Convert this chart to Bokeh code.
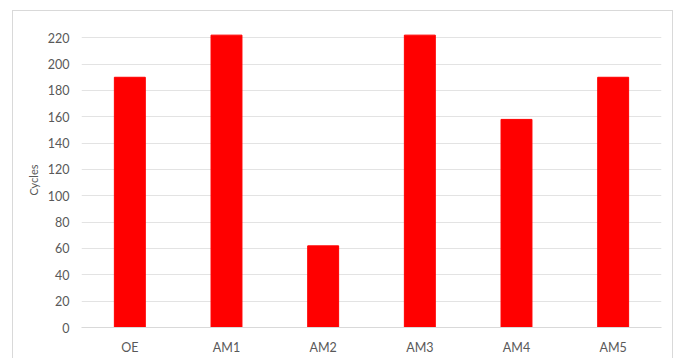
from bokeh.plotting import figure
from bokeh.models import FactorRange, Range1d, FixedTicker
from bokeh.embed import file_html
from bokeh.resources import INLINE

# Cycle counts per sample
categories = ["OE", "AM1", "AM2", "AM3", "AM4", "AM5"]
cycles = [190, 222, 62, 222, 158, 190]
y_ticks = [0, 20, 40, 60, 80, 100, 120, 140, 160, 180, 200, 220]

FONT = "Lato"
TEXT = "#595959"
GRID = "#e3e3e3"

p = figure(
    width=659, height=347,
    x_range=FactorRange(*categories, range_padding=0),
    y_range=Range1d(0, 224),
    output_backend="svg", toolbar_location=None,
    min_border_left=68, min_border_right=11,
    min_border_top=21, min_border_bottom=31,
    margin=(11, 0, 0, 13),
)
p.x_range.factor_padding = 0
p.x_range.group_padding = 0

# light frame around the whole chart area
p.styles = {"outline": "1px solid #d9d9d9"}

p.vbar(x=categories, top=cycles, width=0.32, color="#ff0000")

p.outline_line_color = None
p.background_fill_color = "white"
p.border_fill_color = "white"

p.xgrid.grid_line_color = None
p.ygrid.grid_line_color = GRID
p.ygrid.grid_line_width = 1

p.yaxis.ticker = FixedTicker(ticks=y_ticks)
p.yaxis.axis_line_color = None
p.yaxis.major_tick_line_color = None
p.yaxis.minor_tick_line_color = None
p.yaxis.major_tick_out = 0
p.yaxis.major_label_standoff = 12
p.yaxis.axis_label = "Cycles"
p.yaxis.axis_label_text_font = FONT
p.yaxis.axis_label_text_font_size = "11px"
p.yaxis.axis_label_text_font_style = "normal"
p.yaxis.axis_label_text_color = TEXT
p.yaxis.axis_label_standoff = 5

p.xaxis.axis_line_color = "#d9d9d9"
p.xaxis.major_tick_line_color = None
p.xaxis.minor_tick_line_color = None
p.xaxis.major_tick_out = 0
p.xaxis.major_label_standoff = 12

for ax in (p.xaxis, p.yaxis):
    ax.major_label_text_font = FONT
    ax.major_label_text_font_size = "12.5px"
    ax.major_label_text_color = TEXT

open("out.html", "w").write(file_html(p, INLINE))
